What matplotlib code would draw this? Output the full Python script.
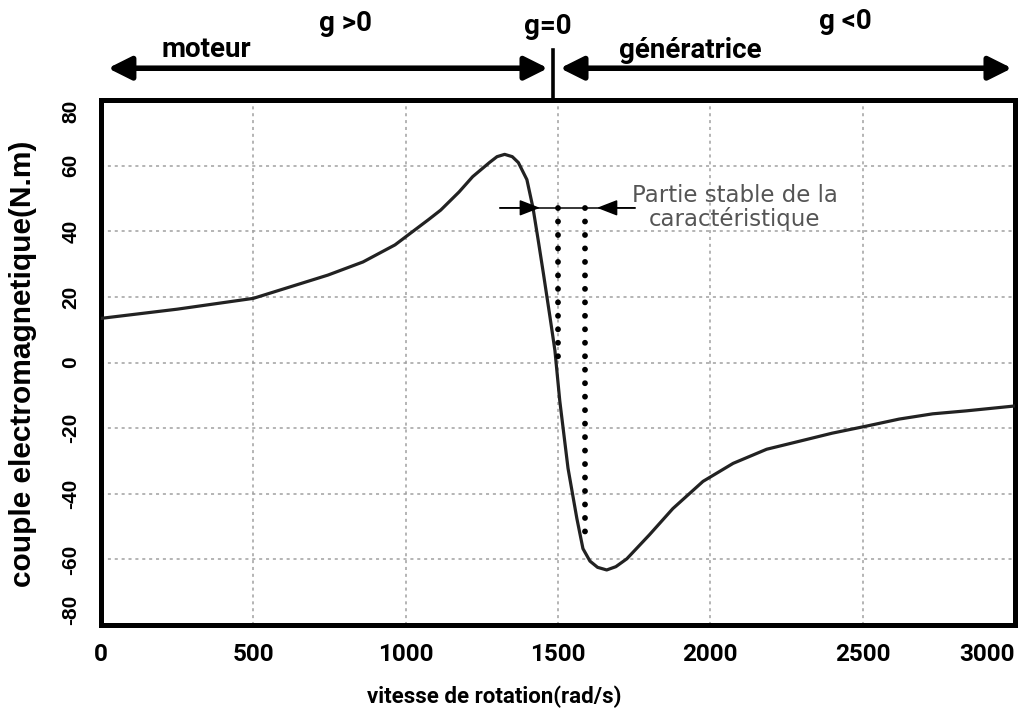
import matplotlib
matplotlib.use("Agg")
import matplotlib.pyplot as plt

# couple electromagnetique en fonction de la vitesse (machine asynchrone, Ns = 1500 rad/s)
vitesse = [0, 250, 500, 745, 860, 965, 1075, 1115, 1175, 1220, 1275, 1300, 1325,
           1350, 1370, 1398, 1418, 1435, 1452, 1474, 1490, 1506, 1533, 1562, 1582,
           1605, 1630, 1660, 1690, 1726, 1800, 1877, 1976, 2075, 2185, 2295, 2400,
           2515, 2620, 2730, 2840, 3000]
couple = [13.5, 16.3, 19.6, 26.7, 30.7, 35.9, 43.6, 46.5, 52.0, 56.7, 61.0, 62.8,
          63.5, 62.8, 61.0, 55.8, 47.2, 37.4, 27.3, 13.8, 3.7, -11.7, -32.2, -47.5,
          -56.7, -60.5, -62.4, -63.2, -62.2, -59.8, -52.5, -44.5, -36.2, -30.7,
          -26.4, -23.9, -21.5, -19.3, -17.2, -15.6, -14.7, -13.2]

xticks = [0, 500, 1000, 1500, 2000, 2500, 3000]
yticks = [-80, -60, -40, -20, 0, 20, 40, 60, 80]

# bornes de la partie stable
v_sync = 1500
v_stable = 1590
couple_haut = 47.2
couple_bas_stable = -54
couple_bas_sync = -2

narrow = ["Roboto", "DejaVu Sans"]
arial = ["Liberation Sans", "DejaVu Sans"]

fig = plt.figure(figsize=(10.18, 7.16), dpi=100)
ax = fig.add_axes([0.0992, 0.127, 0.8978, 0.733])

ax.plot(vitesse, couple, color="#222222", lw=2.3, solid_capstyle="round", zorder=3)

# pointilles de la partie stable
dots = dict(color="black", lw=4.2, linestyle=(0, (0.01, 2.3)),
            dash_capstyle="round", zorder=4)
ax.plot([v_sync, v_sync], [couple_haut, couple_bas_sync], **dots)
ax.plot([v_stable, v_stable], [couple_haut, couple_bas_stable], **dots)

ax.plot([1310, 1752], [couple_haut, couple_haut], color="black", lw=1.1, zorder=4)
ax.annotate("", xy=(1441, couple_haut), xytext=(1310, couple_haut),
            arrowprops=dict(arrowstyle="-|>,head_length=0.9,head_width=0.35",
                            color="black", lw=1.1, shrinkA=0, shrinkB=0,
                            mutation_scale=14), zorder=5)
ax.annotate("", xy=(1628, couple_haut), xytext=(1752, couple_haut),
            arrowprops=dict(arrowstyle="-|>,head_length=0.9,head_width=0.35",
                            color="black", lw=1.1, shrinkA=0, shrinkB=0,
                            mutation_scale=14), zorder=5)
ax.text(2080, couple_haut, "Partie stable de la\ncaractéristique", ha="center",
        va="center", fontsize=16.5, color="#555555", linespacing=1.0,
        family="DejaVu Sans")

ax.set_xlim(0, 3000)
ax.set_ylim(-80, 80)
ax.set_xticks(xticks)
ax.set_yticks(yticks)
ax.set_xticklabels([str(t) for t in xticks], fontsize=17.5, fontweight="bold",
                   family=narrow)
ax.set_yticklabels([str(t) for t in yticks], fontsize=15, fontweight="bold",
                   family=arial, rotation=90, va="center")
xl = ax.get_xticklabels()
xl[-1].set_ha("right")
yl = ax.get_yticklabels()
yl[0].set_va("bottom")
yl[-1].set_va("top")
ax.tick_params(axis="both", length=0)
ax.tick_params(axis="x", pad=13)
ax.tick_params(axis="y", pad=15)

ax.grid(True, color="#a0a0a0", lw=1.1, linestyle=(0, (2, 2.5)))
for sp in ax.spines.values():
    sp.set_linewidth(3.6)
    sp.set_color("black")

fig.text(0.0226, 0.4916, "couple electromagnetique(N.m)", rotation=90,
         ha="center", va="center", fontsize=21.5, fontweight="bold", family=arial)
fig.text(0.486, 0.0265, "vitesse de rotation(rad/s)", ha="center", va="center",
         fontsize=16, fontweight="bold", family=narrow)

# zones moteur / generatrice au-dessus du graphe
trans = ax.get_xaxis_transform()
y_fleche = 1.061
big = dict(arrowstyle="<|-|>,head_length=1.0,head_width=0.5", color="black",
           lw=4, shrinkA=0, shrinkB=0, mutation_scale=14)
ax.annotate("", xy=(1467, y_fleche), xytext=(23, y_fleche), xycoords=trans,
            textcoords=trans, arrowprops=big, annotation_clip=False)
ax.annotate("", xy=(2990, y_fleche), xytext=(1507, y_fleche), xycoords=trans,
            textcoords=trans, arrowprops=big, annotation_clip=False)
ax.plot([1483, 1483], [1.0, 1.095], transform=trans, color="black", lw=2.6,
        clip_on=False)

top = dict(transform=trans, ha="center", va="center", fontsize=20,
           fontweight="bold", family=narrow, clip_on=False)
ax.text(801, 1.147, "g >0", **top)
ax.text(1467, 1.141, "g=0", **top)
ax.text(2442, 1.150, "g <0", **top)
ax.text(345, 1.097, "moteur", **top)
ax.text(1933, 1.095, "génératrice", **top)

fig.savefig("out.png", dpi=100)
